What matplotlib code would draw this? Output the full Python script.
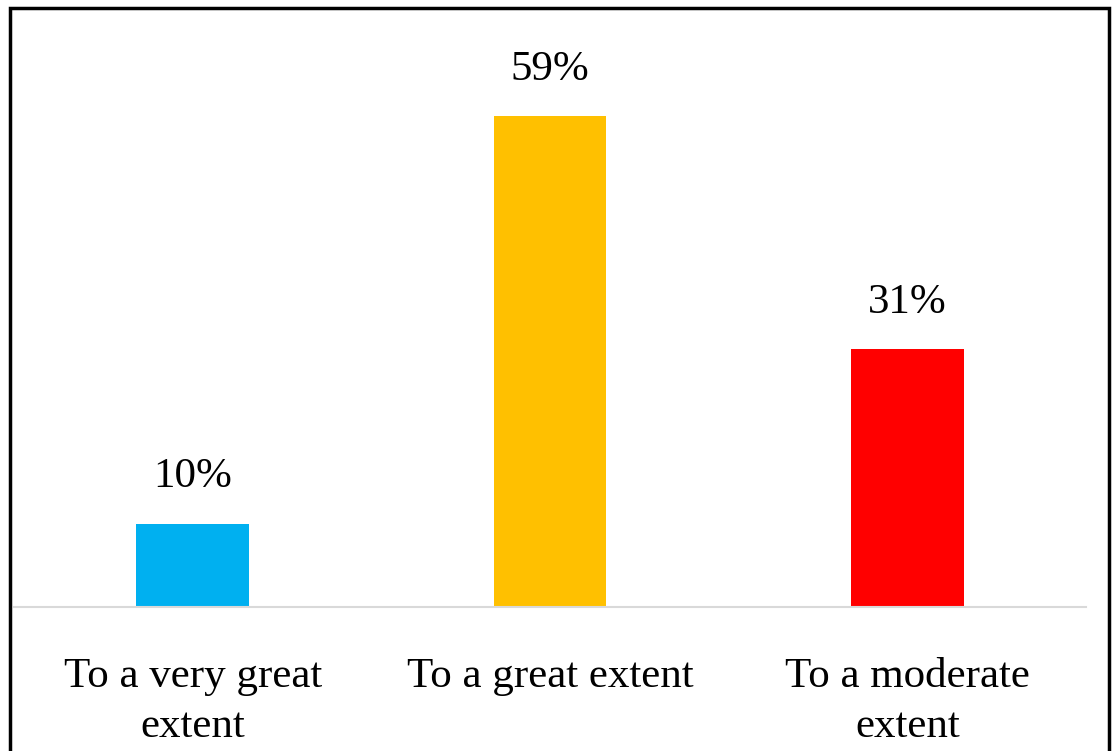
import matplotlib.pyplot as plt
import matplotlib.patches as patches

categories = ['To a very great\nextent', 'To a great extent', 'To a moderate\nextent']
values = [10, 59, 31]
colors = ['#00B0F0', '#FFC000', '#FF0000']

plt.rcParams['font.family'] = ['Liberation Serif', 'DejaVu Serif']

fig = plt.figure(figsize=(11.12, 7.51), dpi=100)
ax = fig.add_axes([0.0126, 0.1917, 0.964, 0.7755])

x = range(len(categories))
bars = ax.bar(x, values, width=0.315, color=colors)
for b, v in zip(bars, values):
    ax.text(b.get_x() + b.get_width() / 2, v + 3.3, f'{v}%',
            ha='center', va='bottom', fontsize=31)

ax.set_xlim(-0.5, 2.5)
ax.set_ylim(0, 70)
ax.set_yticks([])
ax.set_xticks(list(x))
ax.set_xticklabels(categories, fontsize=31, linespacing=1.4)
ax.tick_params(axis='x', length=0, pad=36)
for s in ['top', 'right', 'left']:
    ax.spines[s].set_visible(False)
ax.spines['bottom'].set_color('#D9D9D9')
ax.spines['bottom'].set_linewidth(1.5)

# outer frame
fig.patches.append(patches.Rectangle((10 / 1112, -0.05), 1099 / 1112, 1 - 8 / 751 + 0.05,
                                     transform=fig.transFigure, fill=False,
                                     edgecolor='black', linewidth=2.5))

fig.savefig('out.png', dpi=100)
